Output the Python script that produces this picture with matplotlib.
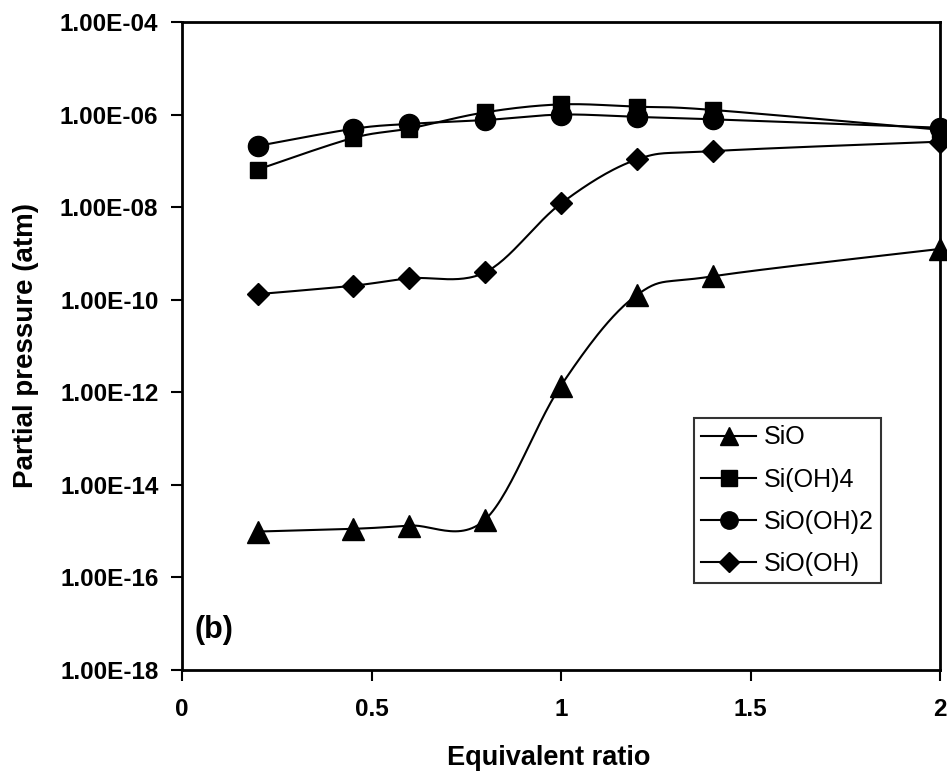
import numpy as np
import matplotlib
matplotlib.use("Agg")
import matplotlib.pyplot as plt
from matplotlib.ticker import FixedLocator, FuncFormatter
from matplotlib.lines import Line2D

x = [0.2, 0.45, 0.6, 0.8, 1.0, 1.2, 1.4, 2.0]
sio = [9.8e-16, 1.12e-15, 1.32e-15, 1.78e-15, 1.4e-12, 1.26e-10, 3.2e-10, 1.25e-9]
sioh4 = [6.5e-8, 3.1e-7, 5.0e-7, 1.12e-6, 1.66e-6, 1.48e-6, 1.26e-6, 4.7e-7]
sioOH2 = [2.1e-7, 4.9e-7, 6.3e-7, 7.6e-7, 1.0e-6, 8.9e-7, 7.9e-7, 5.2e-7]
sioOH = [1.32e-10, 2.0e-10, 2.9e-10, 3.9e-10, 1.2e-8, 1.07e-7, 1.62e-7, 2.6e-7]

series = [("SiO", sio, "^"), ("Si(OH)4", sioh4, "s"),
          ("SiO(OH)2", sioOH2, "o"), ("SiO(OH)", sioOH, "D")]
msizes = {"^": 16, "s": 11.5, "o": 14.5, "D": 11}
leg_msizes = {"^": 12.5, "s": 11.5, "o": 12.5, "D": 10}

plt.rcParams['font.family'] = ['Liberation Sans', 'DejaVu Sans']

fig = plt.figure(figsize=(9.47, 7.72), dpi=100)
ax = fig.add_axes([182/947, 1-670/772, (940-182)/947, (670-22)/772])
ax.set_yscale('log')
ax.set_xlim(0, 2)
ax.set_ylim(1e-18, 1e-4)


def smooth(xs, ys, n=30):
    # Excel-like smoothed line drawn through the data points
    px = np.asarray(xs, float)
    py = np.log10(np.asarray(ys, float))
    sx = 758 / 2.0
    sy = 648 / 14.0
    P = np.column_stack([px * sx, py * sy])
    out = [P[0]]
    m = len(P)
    for i in range(m - 1):
        p0 = P[i - 1] if i > 0 else P[i]
        p1 = P[i]
        p2 = P[i + 1]
        p3 = P[i + 2] if i + 2 < m else P[i + 1]
        c1 = p1 + (p2 - p0) / 6.0
        c2 = p2 - (p3 - p1) / 6.0
        t = np.linspace(0, 1, n)[1:, None]
        B = ((1 - t) ** 3) * p1 + 3 * ((1 - t) ** 2) * t * c1 + 3 * (1 - t) * t ** 2 * c2 + t ** 3 * p2
        out.extend(B)
    out = np.array(out)
    return out[:, 0] / sx, 10 ** (out[:, 1] / sy)


for name, ys, mk in series:
    sxv, syv = smooth(x, ys)
    ax.plot(sxv, syv, color='black', lw=1.5, zorder=2)
    ax.plot(x, ys, linestyle='none', marker=mk, color='black', ms=msizes[mk], zorder=3, clip_on=False)

ax.yaxis.set_major_locator(FixedLocator([10.0 ** e for e in range(-18, -3, 2)]))
ax.yaxis.set_minor_locator(FixedLocator([]))
ax.yaxis.set_major_formatter(FuncFormatter(lambda v, p: "1.00E%+03d" % int(round(np.log10(v))) if v > 0 else ""))
ax.xaxis.set_major_locator(FixedLocator([0, 0.5, 1, 1.5, 2]))
ax.xaxis.set_major_formatter(FuncFormatter(lambda v, p: "%g" % v))

for s in ax.spines.values():
    s.set_linewidth(2)
ax.tick_params(direction='out', length=8, width=1.5, labelsize=17.5)
ax.tick_params(axis='y', pad=9)
ax.tick_params(axis='x', pad=12)
for lab in ax.get_xticklabels() + ax.get_yticklabels():
    lab.set_fontweight('bold')

ax.set_xlabel("Equivalent ratio", fontsize=19.5, fontweight='bold', labelpad=17)
ax.xaxis.set_label_coords(0.484, -0.115)
ax.set_ylabel("Partial pressure (atm)", fontsize=20, fontweight='bold', labelpad=15)

ax.text(0.034, 7.4e-18, "(b)", fontsize=22, fontweight='bold', ha='left', va='center')

handles = [Line2D([], [], color='black', lw=1.5, marker=mk, ms=leg_msizes[mk]) for _, _, mk in series]
leg = ax.legend(handles, [s[0] for s in series], loc='lower right',
                bbox_to_anchor=((881 - 182) / 758, (670 - 583) / 648),
                fontsize=18, frameon=True, fancybox=False, edgecolor='black',
                handlelength=2.2, labelspacing=0.72, borderpad=0.3, handletextpad=0.3,
                borderaxespad=0)
leg.get_frame().set_linewidth(1.5)

fig.savefig("out.png", dpi=100)
